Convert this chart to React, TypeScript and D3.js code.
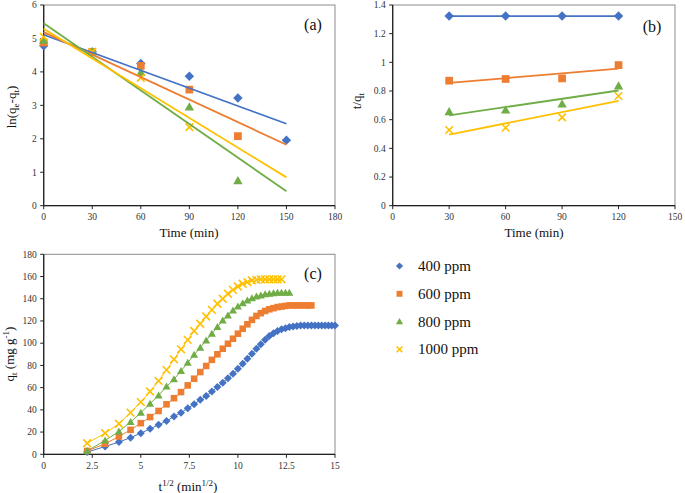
import React from "react";
import * as d3 from "d3";

// ---------- Data ----------
const SERIES = ["400 ppm", "600 ppm", "800 ppm", "1000 ppm"];
const COLORS = ["#4472C4", "#ED7D31", "#70AD47", "#FFC000"];
const SHAPES = ["diamond", "square", "triangle", "x"];

// (a) pseudo-first-order
const TIME_A = [0, 30, 60, 90, 120, 150];
const A400 = [4.78, 4.6, 4.25, 3.87, 3.22, 1.96];
const A600 = [4.88, 4.6, 4.18, 3.47, 2.08];
const A800 = [4.95, 4.6, 3.98, 2.95, 0.75];
const A1000 = [5.05, 4.6, 3.82, 2.35];

// (b) pseudo-second-order
const TIME_B = [30, 60, 90, 120];
const B400 = [1.323, 1.323, 1.323, 1.323];
const B600 = [0.872, 0.884, 0.888, 0.981];
const B800 = [0.656, 0.667, 0.709, 0.835];
const B1000 = [0.528, 0.544, 0.616, 0.765];

// (c) intraparticle diffusion, time in min (x = t^1/2)
const TIME_C = [
  5, 10, 15, 20, 25, 30, 35, 40, 45, 50, 55, 60, 65, 70, 75, 80, 85, 90, 95, 100,
  105, 110, 115, 120, 125, 130, 135, 140, 145, 150, 155, 160, 165, 170, 175, 180,
  185, 190, 195, 200, 205, 210, 215, 220, 225,
];
const C400 = [
  2, 7, 11, 15, 19, 23, 26.5, 30, 34, 37.5, 41.5, 45, 49, 52.5, 56.5, 60.5, 64.5,
  68.5, 72.5, 77, 81.5, 86, 90.5, 95, 99, 103, 106.5, 109, 111, 112.5, 113.5, 114.5,
  115, 115.5, 116, 116, 116, 116, 116, 116, 116, 116, 116, 116, 116,
];
const C600 = [
  3, 9.5, 16, 22, 28, 33.5, 39, 45, 50.5, 56, 62, 68, 74, 79.5, 85, 90, 95, 99.5, 104,
  108.5, 113, 117, 121, 124.5, 127, 129, 130.5, 131.5, 132.5, 133, 133.5, 134, 134,
  134, 134, 134, 134, 134,
];
const C800 = [
  3, 12.5, 20.5, 29, 37.5, 45.5, 53, 61, 67.5, 75, 82.5, 89.5, 96, 102.5, 108.5,
  114.5, 120.5, 125, 129.5, 133, 136, 138.5, 140.5, 142, 143, 144, 144.5, 145, 145.5,
  145.5, 145.5, 145.5,
];
const C1000 = [
  10, 19, 27.5, 37.5, 47, 56.5, 66, 76, 85.5, 94.5, 103, 111, 117.5, 124, 130, 135.5,
  140, 144.5, 148, 151, 153.5, 155, 156.5, 157, 157.5, 157.5, 157.5, 157.5, 157.5,
  157.5,
];

const TICKS_A_X = [0, 30, 60, 90, 120, 150, 180];
const TICKS_A_Y = [0, 1, 2, 3, 4, 5, 6];
const TICKS_B_X = [0, 30, 60, 90, 120, 150];
const TICKS_B_Y = [0, 0.2, 0.4, 0.6, 0.8, 1, 1.2, 1.4];
const TICKS_C_X = [0, 2.5, 5, 7.5, 10, 12.5, 15];
const TICKS_C_Y = [0, 20, 40, 60, 80, 100, 120, 140, 160, 180];

const FONT = "'Liberation Serif', 'Times New Roman', serif";

function fit(xs: number[], ys: number[]) {
  const n = ys.length;
  const x = xs.slice(0, n);
  const mx = d3.mean(x) as number;
  const my = d3.mean(ys) as number;
  let sxy = 0, sxx = 0;
  for (let i = 0; i < n; i++) {
    sxy += (x[i] - mx) * (ys[i] - my);
    sxx += (x[i] - mx) * (x[i] - mx);
  }
  const b = sxy / sxx;
  return { b, a: my - b * mx };
}

function Marker({ shape, x, y, r, color }: any) {
  if (shape === "diamond")
    return <path d={`M${x},${y - r}L${x + r},${y}L${x},${y + r}L${x - r},${y}Z`} fill={color} />;
  if (shape === "square")
    return <rect x={x - r * 0.82} y={y - r * 0.82} width={r * 1.64} height={r * 1.64} fill={color} />;
  if (shape === "triangle")
    return <path d={`M${x},${y - r}L${x + r},${y + r * 0.75}L${x - r},${y + r * 0.75}Z`} fill={color} />;
  const k = r * 0.8;
  return (
    <path
      d={`M${x - k},${y - k}L${x + k},${y + k}M${x - k},${y + k}L${x + k},${y - k}`}
      stroke={color}
      strokeWidth={1.6}
      fill="none"
    />
  );
}

function Frame({ x, y, xt, yt, fmtX, fmtY }: any) {
  const [x0, x1] = x.range();
  const [y0, y1] = y.range();
  return (
    <g fontFamily={FONT}>
      <rect x={x0} y={y1} width={x1 - x0} height={y0 - y1} fill="none" stroke="#8c8c8c" strokeWidth={1} />
      <line x1={x0} x2={x0} y1={y1} y2={y0} stroke="#222" strokeWidth={1.3} />
      <line x1={x0} x2={x1} y1={y0} y2={y0} stroke="#222" strokeWidth={1.3} />
      {xt.map((v: number) => (
        <g key={"x" + v}>
          <line x1={x(v)} x2={x(v)} y1={y0} y2={y0 + 3.5} stroke="#222" strokeWidth={1} />
          <text x={x(v)} y={y0 + 14.5} fontSize={9.5} textAnchor="middle" fill="#333">
            {fmtX(v)}
          </text>
        </g>
      ))}
      {yt.map((v: number) => (
        <g key={"y" + v}>
          <line x1={x0 - 3.5} x2={x0} y1={y(v)} y2={y(v)} stroke="#222" strokeWidth={1} />
          <text x={x0 - 7} y={y(v) + 3.3} fontSize={9.5} textAnchor="end" fill="#333">
            {fmtY(v)}
          </text>
        </g>
      ))}
    </g>
  );
}

const fmt = (v: number) => String(+v.toFixed(2));

export default function App() {
  const xA = d3.scaleLinear([0, 180], [43.7, 335]);
  const yA = d3.scaleLinear([0, 6], [205.7, 5]);
  const xB = d3.scaleLinear([0, 150], [392.7, 675]);
  const yB = d3.scaleLinear([0, 1.4], [205.7, 5]);
  const xC = d3.scaleLinear([0, 15], [43.7, 335]);
  const yC = d3.scaleLinear([0, 180], [454.3, 254.3]);

  const dataA = [A400, A600, A800, A1000];
  const dataB = [B400, B600, B800, B1000];
  const dataC = [C400, C600, C800, C1000];

  const lineC = d3
    .line<[number, number]>()
    .x((d) => xC(d[0]))
    .y((d) => yC(d[1]));

  return (
    <svg
      width={685}
      height={493}
      style={{ position: "absolute", left: 0, top: 0, background: "#fff" }}
      fontFamily={FONT}
    >
      <rect width={685} height={493} fill="#fff" />

      {/* Panel (a) */}
      <Frame x={xA} y={yA} xt={TICKS_A_X} yt={TICKS_A_Y} fmtX={fmt} fmtY={fmt} />
      {dataA.map((ys, i) =>
        ys.map((v, j) => (
          <Marker key={`a${i}-${j}`} shape={SHAPES[i]} x={xA(TIME_A[j])} y={yA(v)} r={4.7} color={COLORS[i]} />
        ))
      )}
      {dataA.map((ys, i) => {
        const { a, b } = fit(TIME_A, ys);
        return (
          <line
            key={"fa" + i}
            x1={xA(0)}
            x2={xA(150)}
            y1={yA(a)}
            y2={yA(a + b * 150)}
            stroke={COLORS[i]}
            strokeWidth={1.8}
          />
        );
      })}
      <text x={313} y={30} fontSize={16} textAnchor="middle" fill="#111">(a)</text>
      <text x={189} y={237} fontSize={13} textAnchor="middle" fill="#111">Time (min)</text>
      <text transform="translate(16,107) rotate(-90)" fontSize={13} textAnchor="middle" fill="#111">
        ln(q<tspan fontSize={9} dy={3}>e</tspan><tspan dy={-3}>-q</tspan><tspan fontSize={9} dy={3}>t</tspan><tspan dy={-3}>)</tspan>
      </text>

      {/* Panel (b) */}
      <Frame x={xB} y={yB} xt={TICKS_B_X} yt={TICKS_B_Y} fmtX={fmt} fmtY={fmt} />
      {dataB.map((ys, i) => {
        const { a, b } = fit(TIME_B, ys);
        return (
          <line
            key={"fb" + i}
            x1={xB(30)}
            x2={xB(120)}
            y1={yB(a + b * 30)}
            y2={yB(a + b * 120)}
            stroke={COLORS[i]}
            strokeWidth={1.8}
          />
        );
      })}
      {dataB.map((ys, i) =>
        ys.map((v, j) => (
          <Marker key={`b${i}-${j}`} shape={SHAPES[i]} x={xB(TIME_B[j])} y={yB(v)} r={4.7} color={COLORS[i]} />
        ))
      )}
      <text x={652} y={32} fontSize={16} textAnchor="middle" fill="#111">(b)</text>
      <text x={534} y={237} fontSize={13} textAnchor="middle" fill="#111">Time (min)</text>
      <text transform="translate(361,101) rotate(-90)" fontSize={13} textAnchor="middle" fill="#111">
        t/q<tspan fontSize={9} dy={3}>t</tspan>
      </text>

      {/* Panel (c) */}
      <Frame x={xC} y={yC} xt={TICKS_C_X} yt={TICKS_C_Y} fmtX={fmt} fmtY={fmt} />
      {dataC.map((ys, i) => (
        <path
          key={"lc" + i}
          d={lineC(ys.map((v, j) => [Math.sqrt(TIME_C[j]), v])) || ""}
          fill="none"
          stroke={COLORS[i]}
          strokeWidth={1}
        />
      ))}
      {dataC.map((ys, i) =>
        ys.map((v, j) => (
          <Marker
            key={`c${i}-${j}`}
            shape={SHAPES[i]}
            x={xC(Math.sqrt(TIME_C[j]))}
            y={yC(v)}
            r={i === 3 ? 4.8 : 4}
            color={COLORS[i]}
          />
        ))
      )}
      <text x={313} y={279} fontSize={16} textAnchor="middle" fill="#111">(c)</text>
      <text x={188} y={491} fontSize={13} textAnchor="middle" fill="#111">
        t<tspan fontSize={9} dy={-5}>1/2</tspan><tspan dy={5}> (min</tspan><tspan fontSize={9} dy={-5}>1/2</tspan><tspan dy={5}>)</tspan>
      </text>
      <text transform="translate(14,354) rotate(-90)" fontSize={13} textAnchor="middle" fill="#111">
        q<tspan fontSize={9} dy={3}>t</tspan><tspan dy={-3}> (mg g</tspan><tspan fontSize={9} dy={-5}>-1</tspan><tspan dy={5}>)</tspan>
      </text>

      {/* Legend */}
      {SERIES.map((s, i) => (
        <g key={"lg" + i}>
          <Marker shape={SHAPES[i]} x={399.5} y={266 + i * 27.8} r={3.6} color={COLORS[i]} />
          <text x={418} y={271 + i * 27.8} fontSize={15} fill="#111">{s}</text>
        </g>
      ))}
    </svg>
  );
}
